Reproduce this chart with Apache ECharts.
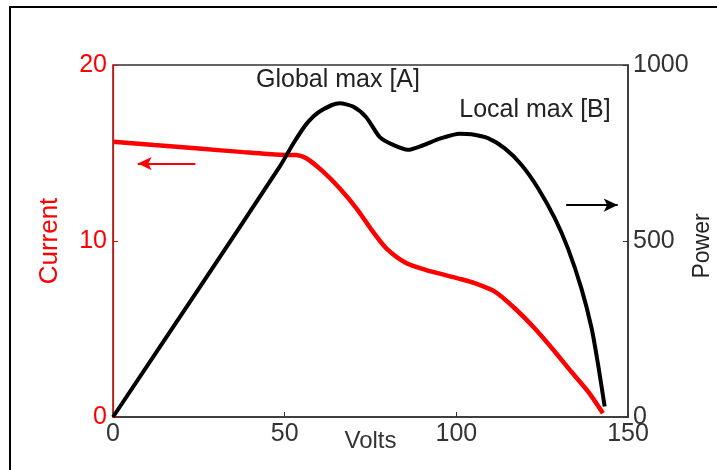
<!DOCTYPE html>
<html>
<head>
<meta charset="utf-8">
<script src="https://cdn.jsdelivr.net/npm/echarts@6/dist/echarts.min.js"></script>
<style>
html,body{margin:0;padding:0;background:#fff;}
#c{width:717px;height:470px;}
</style>
</head>
<body>
<div id="c"></div>
<script>
// ---- data ----
const currentVolts = [0, 12, 25, 38, 48.6, 53.4, 56.3, 61.2, 66, 70.9, 75.7, 79.6, 85.5, 91.3, 96, 101, 105.4, 111.2, 117, 122.8, 128.7, 133.5, 138.4, 142.7];
const currentAmps  = [15.64, 15.45, 15.25, 15.05, 14.9, 14.88, 14.7, 13.94, 13.0, 11.86, 10.53, 9.58, 8.73, 8.35, 8.1, 7.85, 7.6, 7.12, 6.18, 5.04, 3.71, 2.57, 1.44, 0.21];
const powerVolts = [0, 25, 48.6, 52.4, 56.3, 60.2, 66, 69.9, 73.8, 77.7, 81.6, 85.9, 90.3, 95.2, 101, 104.4, 109.2, 114.1, 119, 123.8, 128.7, 132.5, 136.4, 139.4, 141.3, 143.2];
const powerWatts = [0, 365, 712, 775, 832, 868, 891, 882, 851, 795, 773, 759, 772, 791, 805, 803, 792, 763, 716, 650, 564, 479, 366, 252, 148, 30];
const xTicks = [0, 50, 100, 150];
const currentTicks = [0, 10, 20];
const powerTicks = [0, 500, 1000];
const annotations = ['Global max [A]', 'Local max [B]'];
const currentArrow = [[24, 14.4], [7.2, 14.4]];
const powerArrow = [[132, 602], [147, 602]];

const RED = '#ff0000';
const FONT = '"Liberation Sans", Arial, sans-serif';

const chart = echarts.init(document.getElementById('c'), null, {renderer: 'canvas'});
const option = {
  animation: false,
  backgroundColor: '#fff',
  grid: {left: 113, top: 65, width: 515, height: 352, show: true, borderColor: '#333', borderWidth: 1.5, containLabel: false, outerBoundsMode: 'none'},
  xAxis: {
    type: 'value', min: xTicks[0], max: xTicks[xTicks.length - 1], interval: 50,
    name: 'Volts', nameLocation: 'middle', nameGap: 12, nameMoveOverlap: false,
    nameTextStyle: {fontFamily: FONT, fontSize: 24, color: '#333'},
    axisLine: {show: true, lineStyle: {color: '#333', width: 1.5}},
    axisTick: {show: true, inside: true, length: 5, lineStyle: {color: '#333'}},
    axisLabel: {fontFamily: FONT, fontSize: 25, color: '#333', margin: 5, hideOverlap: false},
    splitLine: {show: false}
  },
  yAxis: [{
    type: 'value', position: 'left', min: currentTicks[0], max: currentTicks[currentTicks.length - 1], interval: 10,
    name: 'Current', nameLocation: 'middle', nameGap: 50, nameRotate: 90, nameMoveOverlap: false,
    nameTextStyle: {fontFamily: FONT, fontSize: 26, color: RED},
    axisLine: {show: true, lineStyle: {color: RED, width: 1.2}},
    axisTick: {show: true, inside: true, length: 5, lineStyle: {color: RED}},
    axisLabel: {fontFamily: FONT, fontSize: 25, color: RED, margin: 6, hideOverlap: false},
    splitLine: {show: false}
  }, {
    type: 'value', position: 'right', min: powerTicks[0], max: powerTicks[powerTicks.length - 1], interval: 500,
    name: 'Power', nameLocation: 'middle', nameGap: 63, nameRotate: 90, nameMoveOverlap: false,
    nameTextStyle: {fontFamily: FONT, fontSize: 23, color: '#222', padding: [0, 10, 0, 0]},
    axisLine: {show: true, lineStyle: {color: '#333', width: 1.5}},
    axisTick: {show: true, inside: true, length: 5, lineStyle: {color: '#333'}},
    axisLabel: {fontFamily: FONT, fontSize: 25, color: '#333', margin: 5, hideOverlap: false, formatter: v => String(v)},
    splitLine: {show: false}
  }],
  series: [{
    name: 'Current', type: 'line', yAxisIndex: 0, showSymbol: false, smooth: 0.25,
    data: currentVolts.map((v, i) => [v, currentAmps[i]]),
    lineStyle: {color: RED, width: 4.5}, itemStyle: {color: RED}, z: 3,
    markLine: {
      silent: true, symbol: ['none', 'arrow'], symbolSize: [10, 14], label: {show: false},
      lineStyle: {color: RED, width: 2, type: 'solid'},
      data: [[{coord: currentArrow[0]}, {coord: currentArrow[1]}]]
    }
  }, {
    name: 'Power', type: 'line', yAxisIndex: 1, showSymbol: false, smooth: 0.25,
    data: powerVolts.map((v, i) => [v, powerWatts[i]]),
    lineStyle: {color: '#000', width: 4}, itemStyle: {color: '#000'}, z: 4,
    markLine: {
      silent: true, symbol: ['none', 'arrow'], symbolSize: [10, 14], label: {show: false},
      lineStyle: {color: '#000', width: 2, type: 'solid'},
      data: [[{coord: powerArrow[0]}, {coord: powerArrow[1]}]]
    }
  }],
  graphic: [
    {type: 'rect', silent: true, shape: {x: 10, y: 7, width: 800, height: 600}, style: {fill: 'none', stroke: '#000', lineWidth: 2}},
    {type: 'text', silent: true, style: {x: 338, y: 80, text: annotations[0], font: '25px ' + FONT, fill: '#222', align: 'center', verticalAlign: 'middle', textAlign: 'center', textVerticalAlign: 'middle'}},
    {type: 'text', silent: true, style: {x: 535, y: 110, text: annotations[1], font: '25px ' + FONT, fill: '#222', align: 'center', verticalAlign: 'middle', textAlign: 'center', textVerticalAlign: 'middle'}}
  ]
};
chart.setOption(option);
</script>
</body>
</html>
